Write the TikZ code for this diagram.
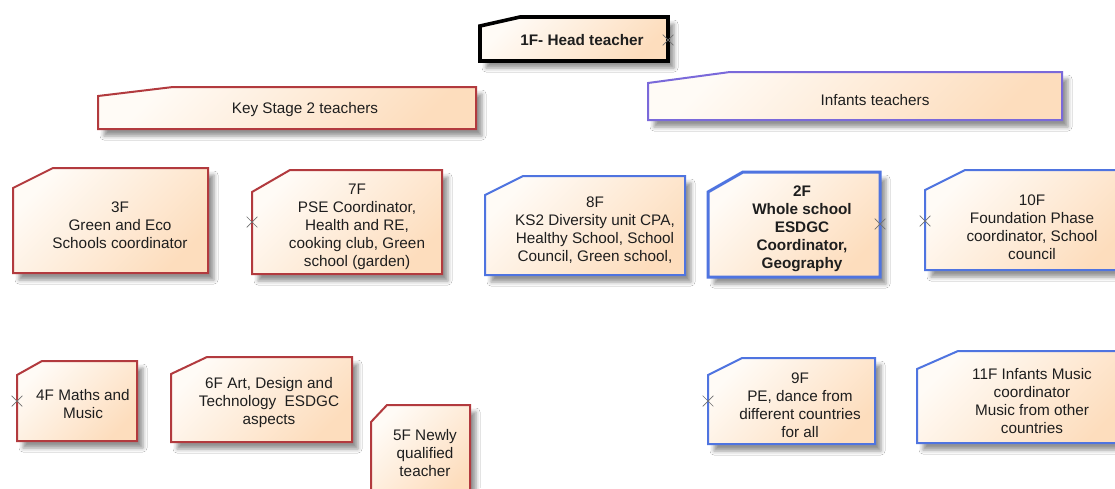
\documentclass[tikz,border=0pt]{standalone}
\usepackage{fontspec}
\setmainfont{Liberation Sans}
\usetikzlibrary{shadows.blur,shapes.misc}

\definecolor{ksred}{HTML}{B23A3E}
\definecolor{infblue}{HTML}{4F74E0}
\definecolor{infpurple}{HTML}{7A69DA}
\definecolor{fillA}{HTML}{FFFBF6}
\definecolor{fillB}{HTML}{FDDDBD}
\definecolor{ink}{HTML}{1E1E1E}
\definecolor{markgray}{HTML}{707070}

\tikzset{
  card/.style={left color=fillA, right color=fillB, shading angle=45,
    line join=miter,
    blur shadow={shadow xshift=6pt, shadow yshift=-7pt,
                 shadow blur radius=4pt, shadow opacity=42}},
  redcard/.style={card, draw=ksred, line width=2pt},
  bluecard/.style={card, draw=infblue, line width=2pt},
  purplecard/.style={card, draw=infpurple, line width=2pt},
  keycard/.style={card, draw=infblue, line width=3pt},
  headcard/.style={card, draw=black, line width=3.6pt},
  lbl/.style={text=ink, align=center, inner sep=0pt,
    font=\fontsize{15.3}{18}\selectfont},
  boldlbl/.style={lbl, font=\fontsize{15.3}{18}\selectfont\bfseries},
  port/.style={cross out, draw=markgray, line width=0.7pt,
    minimum size=10pt, inner sep=0pt}
}

% #1 style, #2 left, #3 top, #4 right, #5 bottom, #6 end of the cut on the top edge, #7 start of the cut on the left edge
\newcommand\cardpath[7]{%
  \path[#1] (#2,#7) -- (#6,#3) -- (#4,#3) -- (#4,#5) -- (#2,#5) -- cycle;}

\begin{document}
\begin{tikzpicture}[x=1pt, y=-1pt]
  \clip (0,0) rectangle (1115,488);
  \fill[white] (0,0) rectangle (1115,488);

  % top level
  \cardpath{headcard}{480}{17}{668}{61}{520}{26}
  \node[boldlbl] (head) at (582,40) {1F- Head teacher};

  % groups
  \cardpath{redcard}{98}{87}{476}{129}{173}{96}
  \node[lbl] (ks2) at (305,110) {Key Stage 2 teachers};
  \cardpath{purplecard}{648}{72}{1062}{120}{730}{83}
  \node[lbl] (inf) at (875,100) {Infants teachers};

  % key stage 2 staff
  \cardpath{redcard}{13}{168}{208}{273}{53}{188}
  \node[lbl] (f3) at (120,225) {3F\\Green and Eco\\Schools coordinator};
  \cardpath{redcard}{252}{170}{442}{274}{290}{192}
  \node[lbl] (f7) at (357,227) {7F\\PSE Coordinator,\\Health and RE,\\cooking club, Green\\school (garden)};
  \cardpath{redcard}{17}{361}{137}{441}{42}{375}
  \node[lbl] (f4) at (83,404) {4F Maths and\\Music};
  \cardpath{redcard}{171}{357}{352}{442}{207}{374}
  \node[lbl] (f6) at (269,403) {6F Art, Design and\\Technology\ \ ESDGC\\aspects};
  \cardpath{redcard}{371}{405}{470}{500}{387}{422}
  \node[lbl] (f5) at (425,453) {5F Newly\\qualified\\teacher};

  % infants staff
  \cardpath{bluecard}{485}{176}{685}{275}{523}{195}
  \node[lbl] (f8) at (595,230) {8F\\KS2 Diversity unit CPA,\\Healthy School, School\\Council, Green school,};
  \cardpath{keycard}{708}{172}{880}{277}{743}{192}
  \node[boldlbl] (f2) at (802,229) {2F\\Whole school\\ESDGC\\Coordinator,\\Geography};
  \cardpath{bluecard}{925}{170}{1130}{270}{965}{190}
  \node[lbl] (f10) at (1032,227) {10F\\Foundation Phase\\coordinator, School\\council};
  \cardpath{bluecard}{708}{358}{875}{444}{742}{375}
  \node[lbl] (f9) at (800,405) {9F\\PE, dance from\\different countries\\for all};
  \cardpath{bluecard}{917}{351}{1130}{443}{958}{369}
  \node[lbl] (f11) at (1032,401) {11F Infants Music\\coordinator\\Music from other\\countries};

  % connection ports
  \node[port] (p1) at (668,40) {};
  \node[port] (p7) at (252,222) {};
  \node[port] (p2) at (880,224) {};
  \node[port] (p10) at (925,221) {};
  \node[port] (p4) at (17,401) {};
  \node[port] (p9) at (708,401) {};
\end{tikzpicture}
\end{document}
